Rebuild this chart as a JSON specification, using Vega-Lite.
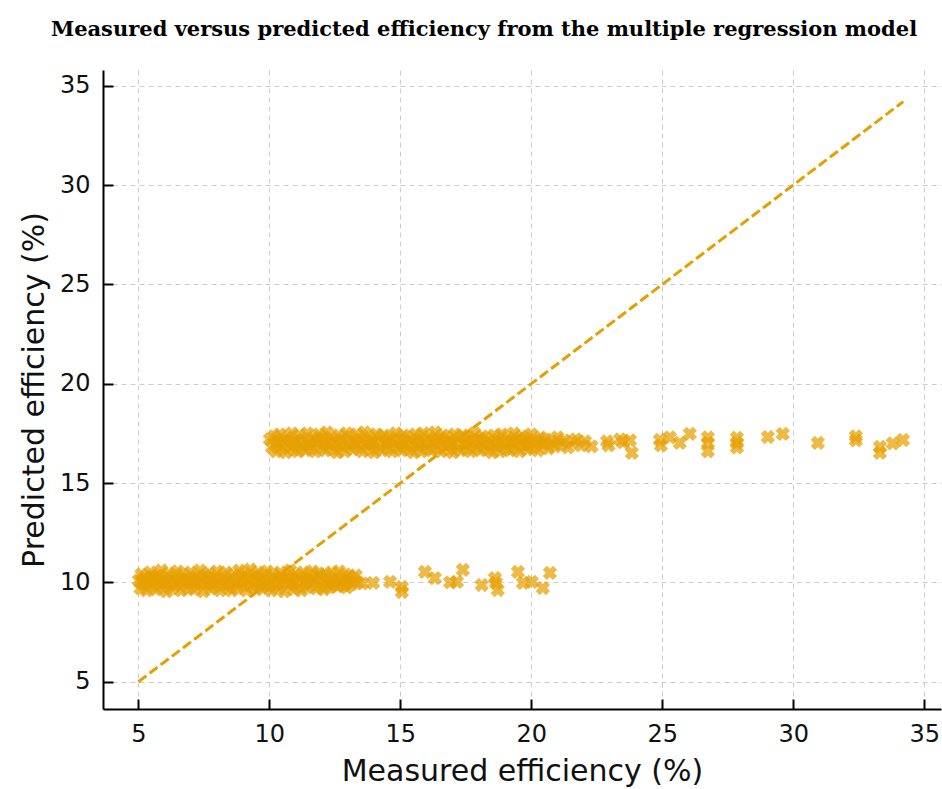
{
  "$schema": "https://vega.github.io/schema/vega-lite/v6.json",
  "autosize": "none",
  "width": 838,
  "height": 639,
  "padding": {"left": 103, "top": 70, "right": 1, "bottom": 80},
  "background": "white",
  "config": {
    "view": {"stroke": null},
    "axis": {
      "domainColor": "#000000",
      "domainWidth": 2,
      "tickColor": "#000000",
      "tickWidth": 2,
      "tickSize": -10,
      "labelPadding": 23,
      "labelFont": "DejaVu Sans",
      "labelFontSize": 24,
      "labelColor": "#111111",
      "titleFont": "DejaVu Sans",
      "titleFontSize": 30,
      "titleFontWeight": "normal",
      "titleColor": "#111111",
      "grid": true,
      "gridColor": "#cccccc",
      "gridDash": [5, 4],
      "gridWidth": 1
    }
  },
  "title": {
    "text": "Measured versus predicted efficiency from the multiple regression model",
    "font": "DejaVu Serif",
    "fontSize": 21,
    "fontWeight": "bold",
    "color": "#000000",
    "anchor": "middle",
    "frame": "group",
    "dx": -38,
    "offset": 30
  },
  "layer": [
    {
      "data": {
        "values": [
          {"measured": 5.02, "predicted": 10.1}, {"measured": 5.08, "predicted": 9.7}, {"measured": 5.12, "predicted": 10.4}, {"measured": 5.2, "predicted": 9.9},
          {"measured": 5.25, "predicted": 10.25}, {"measured": 5.31, "predicted": 9.6}, {"measured": 5.4, "predicted": 10.05}, {"measured": 5.46, "predicted": 10.5},
          {"measured": 5.52, "predicted": 9.8}, {"measured": 5.6, "predicted": 10.2}, {"measured": 5.66, "predicted": 9.65}, {"measured": 5.73, "predicted": 10.35},
          {"measured": 5.8, "predicted": 9.95}, {"measured": 5.88, "predicted": 10.6}, {"measured": 5.93, "predicted": 9.75}, {"measured": 6.0, "predicted": 10.15},
          {"measured": 6.07, "predicted": 9.55}, {"measured": 6.15, "predicted": 10.45}, {"measured": 6.2, "predicted": 10.0}, {"measured": 6.28, "predicted": 9.7},
          {"measured": 6.35, "predicted": 10.3}, {"measured": 6.41, "predicted": 9.85}, {"measured": 6.5, "predicted": 10.55}, {"measured": 6.56, "predicted": 10.1},
          {"measured": 6.63, "predicted": 9.6}, {"measured": 6.7, "predicted": 10.4}, {"measured": 6.78, "predicted": 9.9}, {"measured": 6.85, "predicted": 10.2},
          {"measured": 6.9, "predicted": 9.7}, {"measured": 7.0, "predicted": 10.5}, {"measured": 7.06, "predicted": 10.05}, {"measured": 7.13, "predicted": 9.65},
          {"measured": 7.2, "predicted": 10.3}, {"measured": 7.28, "predicted": 9.85}, {"measured": 7.35, "predicted": 10.6}, {"measured": 7.4, "predicted": 10.15},
          {"measured": 7.48, "predicted": 9.55}, {"measured": 7.55, "predicted": 10.35}, {"measured": 7.62, "predicted": 9.95}, {"measured": 7.7, "predicted": 10.45},
          {"measured": 7.76, "predicted": 9.7}, {"measured": 7.84, "predicted": 10.2}, {"measured": 7.9, "predicted": 9.8}, {"measured": 8.0, "predicted": 10.55},
          {"measured": 8.05, "predicted": 10.0}, {"measured": 8.12, "predicted": 9.6}, {"measured": 8.2, "predicted": 10.3}, {"measured": 8.27, "predicted": 9.9},
          {"measured": 8.35, "predicted": 10.5}, {"measured": 8.41, "predicted": 9.75}, {"measured": 8.5, "predicted": 10.15}, {"measured": 8.56, "predicted": 9.6},
          {"measured": 8.63, "predicted": 10.4}, {"measured": 8.7, "predicted": 10.0}, {"measured": 8.78, "predicted": 9.7}, {"measured": 8.85, "predicted": 10.6},
          {"measured": 8.92, "predicted": 10.25}, {"measured": 9.0, "predicted": 9.85}, {"measured": 9.06, "predicted": 10.45}, {"measured": 9.13, "predicted": 9.6},
          {"measured": 9.2, "predicted": 10.1}, {"measured": 9.27, "predicted": 10.65}, {"measured": 9.35, "predicted": 9.8}, {"measured": 9.42, "predicted": 10.3},
          {"measured": 9.5, "predicted": 9.65}, {"measured": 9.56, "predicted": 10.5}, {"measured": 9.63, "predicted": 10.0}, {"measured": 9.7, "predicted": 9.75},
          {"measured": 9.78, "predicted": 10.35}, {"measured": 9.85, "predicted": 9.9}, {"measured": 9.92, "predicted": 10.55}, {"measured": 10.0, "predicted": 10.1},
          {"measured": 10.06, "predicted": 9.6}, {"measured": 10.14, "predicted": 10.4}, {"measured": 10.2, "predicted": 9.85}, {"measured": 10.28, "predicted": 10.2},
          {"measured": 10.35, "predicted": 9.7}, {"measured": 10.42, "predicted": 10.5}, {"measured": 10.5, "predicted": 10.0}, {"measured": 10.57, "predicted": 9.55},
          {"measured": 10.64, "predicted": 10.3}, {"measured": 10.72, "predicted": 9.9}, {"measured": 10.8, "predicted": 10.6}, {"measured": 10.86, "predicted": 10.15},
          {"measured": 10.93, "predicted": 9.65}, {"measured": 11.0, "predicted": 10.4}, {"measured": 11.08, "predicted": 9.8}, {"measured": 11.15, "predicted": 10.25},
          {"measured": 11.22, "predicted": 9.6}, {"measured": 11.3, "predicted": 10.5}, {"measured": 11.36, "predicted": 10.0}, {"measured": 11.44, "predicted": 9.75},
          {"measured": 11.5, "predicted": 10.35}, {"measured": 11.58, "predicted": 9.9}, {"measured": 11.65, "predicted": 10.55}, {"measured": 11.72, "predicted": 10.1},
          {"measured": 11.8, "predicted": 9.7}, {"measured": 11.87, "predicted": 10.45}, {"measured": 11.94, "predicted": 9.85}, {"measured": 12.0, "predicted": 10.2},
          {"measured": 12.08, "predicted": 9.65}, {"measured": 12.15, "predicted": 10.4}, {"measured": 12.22, "predicted": 10.0}, {"measured": 12.3, "predicted": 9.75},
          {"measured": 12.37, "predicted": 10.5}, {"measured": 12.45, "predicted": 9.9}, {"measured": 12.52, "predicted": 10.25}, {"measured": 12.6, "predicted": 9.8},
          {"measured": 12.67, "predicted": 10.55}, {"measured": 12.75, "predicted": 10.1}, {"measured": 12.82, "predicted": 9.85}, {"measured": 12.9, "predicted": 10.4},
          {"measured": 12.97, "predicted": 10.0}, {"measured": 13.05, "predicted": 10.3}, {"measured": 13.12, "predicted": 9.9}, {"measured": 13.2, "predicted": 10.15},
          {"measured": 13.3, "predicted": 10.35}, {"measured": 13.38, "predicted": 10.0},
          {"measured": 5.15, "predicted": 10.0}, {"measured": 5.55, "predicted": 10.3}, {"measured": 5.95, "predicted": 10.05}, {"measured": 6.45, "predicted": 9.95},
          {"measured": 6.95, "predicted": 10.1}, {"measured": 7.45, "predicted": 10.0}, {"measured": 7.95, "predicted": 10.2}, {"measured": 8.45, "predicted": 9.95},
          {"measured": 8.95, "predicted": 10.05}, {"measured": 9.45, "predicted": 10.15}, {"measured": 9.95, "predicted": 9.8}, {"measured": 10.45, "predicted": 10.25},
          {"measured": 10.95, "predicted": 10.0}, {"measured": 11.45, "predicted": 10.1}, {"measured": 11.95, "predicted": 10.3}, {"measured": 12.45, "predicted": 10.05},
          {"measured": 12.95, "predicted": 9.75},
          {"measured": 13.55, "predicted": 9.95}, {"measured": 13.96, "predicted": 9.98}, {"measured": 14.61, "predicted": 10.03}, {"measured": 15.06, "predicted": 9.77},
          {"measured": 15.06, "predicted": 9.52}, {"measured": 15.94, "predicted": 10.53}, {"measured": 16.32, "predicted": 10.22}, {"measured": 16.9, "predicted": 10.0},
          {"measured": 17.16, "predicted": 10.03}, {"measured": 17.39, "predicted": 10.63}, {"measured": 18.11, "predicted": 9.87}, {"measured": 18.61, "predicted": 10.22},
          {"measured": 18.65, "predicted": 9.98}, {"measured": 18.72, "predicted": 9.62}, {"measured": 19.49, "predicted": 10.53}, {"measured": 19.68, "predicted": 9.98},
          {"measured": 20.02, "predicted": 10.03}, {"measured": 20.44, "predicted": 9.72}, {"measured": 20.71, "predicted": 10.48},
          {"measured": 10.02, "predicted": 17.2}, {"measured": 10.1, "predicted": 16.8}, {"measured": 10.18, "predicted": 17.35}, {"measured": 10.25, "predicted": 16.6},
          {"measured": 10.33, "predicted": 17.05}, {"measured": 10.4, "predicted": 17.45}, {"measured": 10.48, "predicted": 16.75}, {"measured": 10.55, "predicted": 17.15},
          {"measured": 10.63, "predicted": 16.55}, {"measured": 10.7, "predicted": 17.3}, {"measured": 10.78, "predicted": 16.9}, {"measured": 10.86, "predicted": 17.5},
          {"measured": 10.93, "predicted": 16.7}, {"measured": 11.0, "predicted": 17.1}, {"measured": 11.08, "predicted": 16.6}, {"measured": 11.15, "predicted": 17.4},
          {"measured": 11.23, "predicted": 16.85}, {"measured": 11.3, "predicted": 17.2}, {"measured": 11.38, "predicted": 16.65}, {"measured": 11.45, "predicted": 17.5},
          {"measured": 11.53, "predicted": 17.0}, {"measured": 11.6, "predicted": 16.75}, {"measured": 11.68, "predicted": 17.3}, {"measured": 11.75, "predicted": 16.6},
          {"measured": 11.83, "predicted": 17.15}, {"measured": 11.9, "predicted": 17.45}, {"measured": 11.98, "predicted": 16.8}, {"measured": 12.05, "predicted": 17.25},
          {"measured": 12.13, "predicted": 16.65}, {"measured": 12.2, "predicted": 17.55}, {"measured": 12.28, "predicted": 16.95}, {"measured": 12.35, "predicted": 17.3},
          {"measured": 12.43, "predicted": 16.7}, {"measured": 12.5, "predicted": 17.1}, {"measured": 12.58, "predicted": 16.55}, {"measured": 12.65, "predicted": 17.4},
          {"measured": 12.73, "predicted": 16.85}, {"measured": 12.8, "predicted": 17.2}, {"measured": 12.88, "predicted": 16.6}, {"measured": 12.95, "predicted": 17.5},
          {"measured": 13.03, "predicted": 16.9}, {"measured": 13.1, "predicted": 17.3}, {"measured": 13.18, "predicted": 16.7}, {"measured": 13.25, "predicted": 17.05},
          {"measured": 13.33, "predicted": 17.45}, {"measured": 13.4, "predicted": 16.8}, {"measured": 13.48, "predicted": 17.2}, {"measured": 13.55, "predicted": 16.6},
          {"measured": 13.63, "predicted": 17.55}, {"measured": 13.7, "predicted": 16.95}, {"measured": 13.78, "predicted": 17.35}, {"measured": 13.85, "predicted": 16.7},
          {"measured": 13.93, "predicted": 17.1}, {"measured": 14.0, "predicted": 16.55}, {"measured": 14.08, "predicted": 17.45}, {"measured": 14.15, "predicted": 16.85},
          {"measured": 14.23, "predicted": 17.25}, {"measured": 14.3, "predicted": 16.65}, {"measured": 14.38, "predicted": 17.4}, {"measured": 14.45, "predicted": 17.0},
          {"measured": 14.53, "predicted": 16.75}, {"measured": 14.6, "predicted": 17.3}, {"measured": 14.68, "predicted": 16.6}, {"measured": 14.75, "predicted": 17.15},
          {"measured": 14.83, "predicted": 17.5}, {"measured": 14.9, "predicted": 16.8}, {"measured": 14.98, "predicted": 17.2}, {"measured": 15.05, "predicted": 16.65},
          {"measured": 15.13, "predicted": 17.4}, {"measured": 15.2, "predicted": 16.9}, {"measured": 15.28, "predicted": 17.3}, {"measured": 15.35, "predicted": 16.7},
          {"measured": 15.43, "predicted": 17.1}, {"measured": 15.5, "predicted": 16.55}, {"measured": 15.58, "predicted": 17.45}, {"measured": 15.65, "predicted": 16.85},
          {"measured": 15.73, "predicted": 17.25}, {"measured": 15.8, "predicted": 16.6}, {"measured": 15.88, "predicted": 17.5}, {"measured": 15.95, "predicted": 17.0},
          {"measured": 16.03, "predicted": 16.75}, {"measured": 16.1, "predicted": 17.35}, {"measured": 16.18, "predicted": 16.65}, {"measured": 16.25, "predicted": 17.15},
          {"measured": 16.33, "predicted": 17.55}, {"measured": 16.4, "predicted": 16.8}, {"measured": 16.48, "predicted": 17.2}, {"measured": 16.55, "predicted": 16.6},
          {"measured": 16.63, "predicted": 17.4}, {"measured": 16.7, "predicted": 16.95}, {"measured": 16.78, "predicted": 17.3}, {"measured": 16.85, "predicted": 16.7},
          {"measured": 16.93, "predicted": 17.1}, {"measured": 17.0, "predicted": 16.55}, {"measured": 17.08, "predicted": 17.45}, {"measured": 17.15, "predicted": 16.85},
          {"measured": 17.23, "predicted": 17.25}, {"measured": 17.3, "predicted": 16.65}, {"measured": 17.38, "predicted": 17.4}, {"measured": 17.45, "predicted": 17.0},
          {"measured": 17.53, "predicted": 16.75}, {"measured": 17.6, "predicted": 17.3}, {"measured": 17.68, "predicted": 16.6}, {"measured": 17.75, "predicted": 17.15},
          {"measured": 17.83, "predicted": 17.5}, {"measured": 17.9, "predicted": 16.8}, {"measured": 17.98, "predicted": 17.2}, {"measured": 18.05, "predicted": 16.65},
          {"measured": 18.13, "predicted": 17.35}, {"measured": 18.2, "predicted": 16.9}, {"measured": 18.28, "predicted": 17.25}, {"measured": 18.35, "predicted": 16.7},
          {"measured": 18.43, "predicted": 17.05}, {"measured": 18.5, "predicted": 16.55}, {"measured": 18.58, "predicted": 17.4}, {"measured": 18.65, "predicted": 16.85},
          {"measured": 18.73, "predicted": 17.2}, {"measured": 18.8, "predicted": 16.6}, {"measured": 18.88, "predicted": 17.45}, {"measured": 18.95, "predicted": 17.0},
          {"measured": 19.03, "predicted": 16.75}, {"measured": 19.1, "predicted": 17.3}, {"measured": 19.18, "predicted": 16.65}, {"measured": 19.25, "predicted": 17.1},
          {"measured": 19.33, "predicted": 17.5}, {"measured": 19.4, "predicted": 16.8}, {"measured": 19.48, "predicted": 17.2}, {"measured": 19.55, "predicted": 16.6},
          {"measured": 19.63, "predicted": 17.35}, {"measured": 19.7, "predicted": 16.9}, {"measured": 19.78, "predicted": 17.25}, {"measured": 19.85, "predicted": 16.7},
          {"measured": 19.93, "predicted": 17.05}, {"measured": 20.0, "predicted": 17.45}, {"measured": 20.08, "predicted": 16.8}, {"measured": 20.15, "predicted": 17.15},
          {"measured": 20.25, "predicted": 16.65}, {"measured": 20.35, "predicted": 17.3}, {"measured": 20.45, "predicted": 16.95}, {"measured": 20.55, "predicted": 17.2},
          {"measured": 20.65, "predicted": 16.75}, {"measured": 20.78, "predicted": 17.1}, {"measured": 20.9, "predicted": 16.85}, {"measured": 21.0, "predicted": 17.3},
          {"measured": 21.12, "predicted": 16.95}, {"measured": 21.25, "predicted": 17.15}, {"measured": 21.4, "predicted": 16.8}, {"measured": 21.55, "predicted": 17.05},
          {"measured": 21.7, "predicted": 17.2}, {"measured": 21.9, "predicted": 16.9}, {"measured": 22.05, "predicted": 17.1}, {"measured": 22.3, "predicted": 16.85},
          {"measured": 10.3, "predicted": 17.0}, {"measured": 10.9, "predicted": 17.05}, {"measured": 11.5, "predicted": 16.95}, {"measured": 12.1, "predicted": 17.0},
          {"measured": 12.7, "predicted": 17.05}, {"measured": 13.3, "predicted": 16.95}, {"measured": 13.9, "predicted": 17.0}, {"measured": 14.5, "predicted": 17.05},
          {"measured": 15.1, "predicted": 16.95}, {"measured": 15.7, "predicted": 17.0}, {"measured": 16.3, "predicted": 17.05}, {"measured": 16.9, "predicted": 16.95},
          {"measured": 17.5, "predicted": 17.0}, {"measured": 18.1, "predicted": 17.05}, {"measured": 18.7, "predicted": 16.95}, {"measured": 19.3, "predicted": 17.0},
          {"measured": 19.9, "predicted": 16.95}, {"measured": 20.5, "predicted": 17.0},
          {"measured": 22.89, "predicted": 17.1}, {"measured": 22.95, "predicted": 16.9}, {"measured": 23.39, "predicted": 17.2}, {"measured": 23.5, "predicted": 17.05},
          {"measured": 23.77, "predicted": 17.15}, {"measured": 23.84, "predicted": 16.52}, {"measured": 24.91, "predicted": 17.17}, {"measured": 24.95, "predicted": 16.9},
          {"measured": 25.29, "predicted": 17.3}, {"measured": 25.67, "predicted": 17.02}, {"measured": 26.05, "predicted": 17.48}, {"measured": 26.74, "predicted": 17.3},
          {"measured": 26.74, "predicted": 17.02}, {"measured": 26.74, "predicted": 16.6}, {"measured": 27.85, "predicted": 17.28}, {"measured": 27.85, "predicted": 17.02},
          {"measured": 27.85, "predicted": 16.8}, {"measured": 29.03, "predicted": 17.32}, {"measured": 29.6, "predicted": 17.48}, {"measured": 30.94, "predicted": 17.02},
          {"measured": 32.39, "predicted": 17.35}, {"measured": 32.39, "predicted": 17.15}, {"measured": 33.31, "predicted": 16.82}, {"measured": 33.31, "predicted": 16.52},
          {"measured": 33.8, "predicted": 17.0}, {"measured": 34.19, "predicted": 17.17}
        ]
      },
      "mark": {"type": "point", "shape": "cross", "angle": 45, "filled": true, "size": 210, "color": "#E69F00", "opacity": 0.72},
      "encoding": {
        "x": {
          "field": "measured", "type": "quantitative",
          "scale": {"domain": [3.65, 35.64], "nice": false, "zero": false},
          "axis": {"values": [5, 10, 15, 20, 25, 30, 35], "title": "Measured efficiency (%)", "titlePadding": 10}
        },
        "y": {
          "field": "predicted", "type": "quantitative",
          "scale": {"domain": [3.63, 35.79], "nice": false, "zero": false},
          "axis": {"values": [5, 10, 15, 20, 25, 30, 35], "title": "Predicted efficiency (%)", "titlePadding": 10}
        }
      }
    },
    {
      "data": {"values": [{"measured": 5.0, "predicted": 5.0}, {"measured": 34.2, "predicted": 34.2}]},
      "mark": {"type": "line", "color": "#E69F00", "strokeWidth": 3, "strokeDash": [10, 4]},
      "encoding": {
        "x": {"field": "measured", "type": "quantitative"},
        "y": {"field": "predicted", "type": "quantitative"}
      }
    }
  ]
}
